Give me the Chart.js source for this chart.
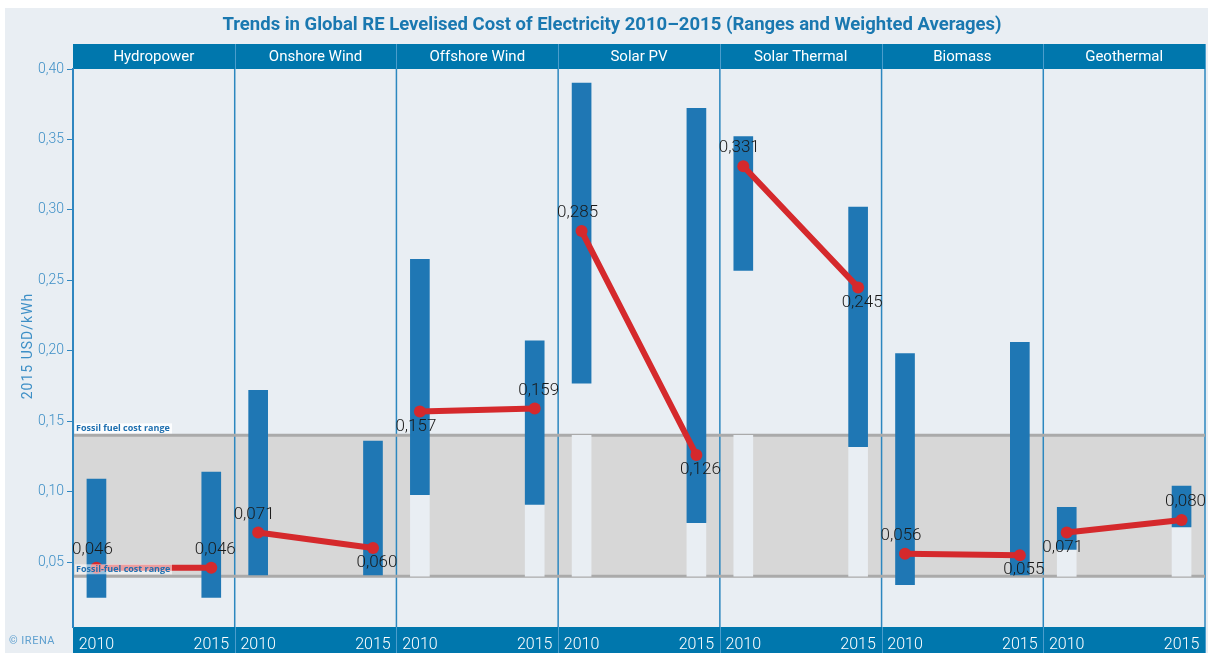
<!DOCTYPE html>
<html lang="en">
<head>
    <meta charset="UTF-8">
    <title>Trends in Global RE Levelised Cost of Electricity 2010–2015</title>
    <script src="https://cdn.jsdelivr.net/npm/chart.js"></script>
    <style>
        body {
            margin: 0;
            background: #ffffff;
        }
        canvas {
            display: block;
        }
    </style>
</head>
<body>
<canvas id="lcoeChart" width="1211" height="653"></canvas>

<script>
  const technologies = ['Hydropower', 'Onshore Wind', 'Offshore Wind', 'Solar PV', 'Solar Thermal', 'Biomass', 'Geothermal'];
  const years = ['2010', '2015'];

  // cost ranges, 2015 USD/kWh
  const low2010  = [0.025, 0.041, 0.098, 0.177, 0.257, 0.034, 0.059];
  const high2010 = [0.109, 0.172, 0.265, 0.390, 0.352, 0.198, 0.089];
  const low2015  = [0.025, 0.041, 0.091, 0.078, 0.132, 0.041, 0.075];
  const high2015 = [0.114, 0.136, 0.207, 0.372, 0.302, 0.206, 0.104];

  // weighted averages
  const avg2010 = [0.046, 0.071, 0.157, 0.285, 0.331, 0.056, 0.071];
  const avg2015 = [0.046, 0.060, 0.159, 0.126, 0.245, 0.055, 0.080];

  const fossilRange = [0.04, 0.14];
  const yTicks = [0.05, 0.10, 0.15, 0.20, 0.25, 0.30, 0.35, 0.40];

  // where the value labels sit relative to their point
  const side2010 = ['above', 'above', 'below', 'above', 'above', 'above', 'below'];
  const side2015 = ['above', 'below', 'above', 'below', 'below', 'below', 'above'];

  const POS = [0.145, 0.855];   // bar position inside each technology column
  const BLUE = '#1f77b4';
  const BAND = '#0077ad';
  const BG = '#e9eef3';
  const AXIS = '#3d8fc6';

  const fmt = v => v.toFixed(3).replace('.', ',');

  const rangeData = [];
  const lightData = [];
  const avgData = [];
  technologies.forEach((t, i) => {
    const lows = [low2010[i], low2015[i]];
    const highs = [high2010[i], high2015[i]];
    POS.forEach((p, j) => {
      rangeData.push({ x: i + p, y: [lows[j], highs[j]] });
      // the part of the column inside the fossil band that is below the range
      if (lows[j] > fossilRange[0] + 0.003) {
        lightData.push({ x: i + p, y: [fossilRange[0], Math.min(lows[j], fossilRange[1])] });
      }
    });
    avgData.push({ x: i + POS[0], y: avg2010[i] });
    avgData.push({ x: i + POS[1], y: avg2015[i] });
    avgData.push({ x: i + 1, y: null });
  });

  const xTickValues = [];
  technologies.forEach((t, i) => POS.forEach(p => xTickValues.push(i + p)));

  const decor = {
    id: 'decor',
    beforeDraw(chart) {
      const { ctx, chartArea: a, scales: { y } } = chart;
      const colW = (a.right - a.left) / technologies.length;
      ctx.save();
      ctx.fillStyle = '#ffffff';
      ctx.fillRect(0, 0, chart.width, chart.height);
      ctx.fillStyle = BG;
      ctx.fillRect(5, 8, 1203, chart.height - 8);

      // fossil fuel band
      const yTop = y.getPixelForValue(fossilRange[1]);
      const yBot = y.getPixelForValue(fossilRange[0]);
      ctx.fillStyle = '#d7d7d7';
      ctx.fillRect(a.left, yTop, a.right - a.left, yBot - yTop);

      // column dividers
      ctx.strokeStyle = '#2c87bf';
      ctx.lineWidth = 1.5;
      for (let i = 1; i <= technologies.length; i++) {
        const x = a.left + i * colW;
        ctx.beginPath();
        ctx.moveTo(x, a.top);
        ctx.lineTo(x, a.bottom);
        ctx.stroke();
      }

      ctx.strokeStyle = '#aaaaaa';
      ctx.lineWidth = 3;
      [yTop, yBot].forEach(py => {
        ctx.beginPath();
        ctx.moveTo(a.left, py);
        ctx.lineTo(a.right, py);
        ctx.stroke();
      });

      // header and footer bands
      ctx.fillStyle = BAND;
      ctx.fillRect(a.left, 44, a.right - a.left, a.top - 44);
      ctx.fillRect(a.left, a.bottom, a.right - a.left, chart.height - a.bottom);
      ctx.strokeStyle = '#4b9dcc';
      ctx.lineWidth = 1;
      for (let i = 1; i <= technologies.length; i++) {
        const x = Math.round(a.left + i * colW) + 0.5;
        ctx.beginPath();
        ctx.moveTo(x, 44);
        ctx.lineTo(x, a.top);
        ctx.moveTo(x, a.bottom);
        ctx.lineTo(x, chart.height);
        ctx.stroke();
      }
      ctx.fillStyle = '#ffffff';
      ctx.font = '15px Roboto';
      ctx.textAlign = 'center';
      ctx.textBaseline = 'middle';
      technologies.forEach((t, i) => {
        ctx.fillText(t, a.left + (i + 0.5) * colW, 57);
      });

      // title
      ctx.fillStyle = '#1a78b0';
      ctx.font = 'bold 18.5px Roboto';
      ctx.fillText('Trends in Global RE Levelised Cost of Electricity 2010–2015 (Ranges and Weighted Averages)', 612, 25);

      // axis title
      ctx.save();
      ctx.translate(28, 346);
      ctx.rotate(-Math.PI / 2);
      ctx.fillStyle = AXIS;
      ctx.font = '14px Roboto';
      ctx.letterSpacing = '1px';
      ctx.fillText('2015 USD/kWh', 0, 0);
      ctx.restore();

      ctx.fillStyle = '#5fa0cf';
      ctx.font = '11px Roboto';
      ctx.letterSpacing = '0.5px';
      ctx.textAlign = 'left';
      ctx.fillText('© IRENA', 9, 641);
      ctx.restore();
    },
    afterDatasetsDraw(chart) {
      const { ctx, chartArea: a, scales: { y } } = chart;
      const pts = chart.getDatasetMeta(2).data;
      ctx.save();
      ctx.fillStyle = '#1a1a1a';
      ctx.font = '300 17px Roboto';
      ctx.textAlign = 'center';
      ctx.textBaseline = 'middle';
      technologies.forEach((t, i) => {
        const p0 = pts[i * 3], p1 = pts[i * 3 + 1];
        ctx.fillText(fmt(avg2010[i]), p0.x - 4, p0.y + (side2010[i] === 'above' ? -18 : 15));
        ctx.fillText(fmt(avg2015[i]), p1.x + 4, p1.y + (side2015[i] === 'above' ? -18 : 15));
      });

      // fossil band captions
      const yTop = y.getPixelForValue(fossilRange[1]);
      const yBot = y.getPixelForValue(fossilRange[0]);
      ctx.textAlign = 'left';
      ctx.font = 'bold 9px "Open Sans"';
      ctx.fillStyle = 'rgba(255,255,255,0.85)';
      ctx.fillRect(a.left + 2, yTop - 12, 97, 10);
      ctx.fillStyle = 'rgba(255,255,255,0.55)';
      ctx.fillRect(a.left + 2, yBot - 12, 97, 10);
      ctx.fillStyle = '#1e6fb0';
      ctx.fillText('Fossil fuel cost range', a.left + 3, yTop - 7);
      ctx.fillText('Fossil-fuel cost range', a.left + 3, yBot - 7);
      ctx.restore();
    }
  };

  new Chart(document.getElementById('lcoeChart'), {
    type: 'bar',
    data: {
      datasets: [
        {
          label: 'Below range',
          data: lightData,
          backgroundColor: BG,
          barThickness: 19,
          grouped: false,
          order: 3
        },
        {
          label: 'Range',
          data: rangeData,
          backgroundColor: BLUE,
          barThickness: 19,
          grouped: false,
          order: 2
        },
        {
          type: 'line',
          label: 'Weighted average',
          data: avgData,
          borderColor: '#d5292c',
          backgroundColor: '#d5292c',
          borderWidth: 6,
          pointRadius: 6,
          pointBorderWidth: 0,
          spanGaps: false,
          order: 1
        }
      ]
    },
    options: {
      responsive: false,
      animation: false,
      devicePixelRatio: 1,
      layout: { padding: { left: 0, right: 4, top: 69, bottom: 0 } },
      plugins: {
        legend: { display: false },
        tooltip: { enabled: false }
      },
      scales: {
        x: {
          type: 'linear',
          min: 0,
          max: technologies.length,
          offset: false,
          grid: { display: false, drawTicks: false, offset: false },
          border: { display: false },
          afterBuildTicks: s => { s.ticks = xTickValues.map(v => ({ value: v })); },
          afterFit: s => { s.height = 26; },
          ticks: {
            color: '#ffffff',
            font: { family: 'Roboto', size: 16, weight: '300' },
            padding: 8,
            maxRotation: 0,
            autoSkip: false,
            callback: (v, i) => years[i % 2]
          }
        },
        y: {
          min: 0.004,
          max: 0.40,
          afterBuildTicks: s => { s.ticks = yTicks.map(v => ({ value: v })); },
          afterFit: s => { s.width = 73; },
          grid: { drawOnChartArea: false, tickLength: 6, color: '#2f86c0' },
          border: { color: '#2f86c0', width: 2 },
          ticks: {
            color: AXIS,
            font: { family: 'Roboto', size: 14, weight: '300' },
            padding: 3,
            callback: v => v.toFixed(2).replace('.', ',')
          }
        }
      }
    },
    plugins: [decor]
  });
</script>
</body>
</html>
